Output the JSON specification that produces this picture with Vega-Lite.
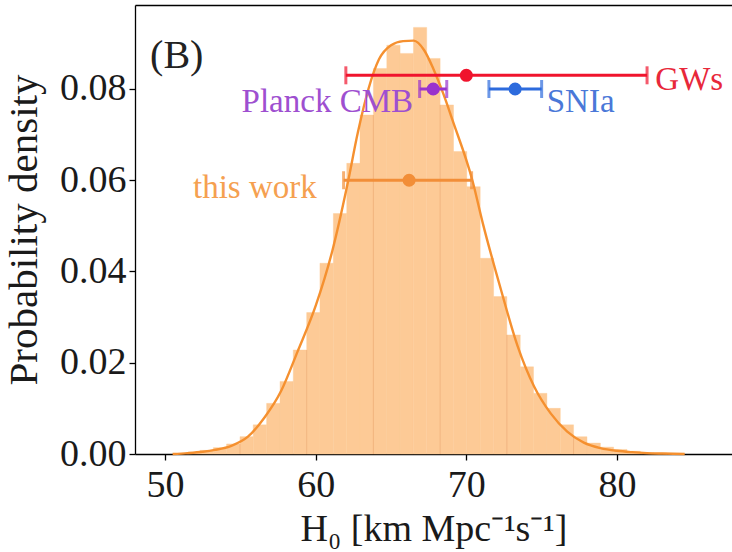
{
  "$schema": "https://vega.github.io/schema/vega-lite/v6.json",
  "width": 597,
  "height": 449,
  "autosize": {"type": "none"},
  "padding": {"left": 135, "top": 5, "right": 0, "bottom": 98},
  "background": "white",
  "config": {
    "view": {"stroke": null},
    "font": "Liberation Serif",
    "text": {"font": "Liberation Serif"},
    "axis": {
      "grid": false,
      "domainColor": "black",
      "domainWidth": 1.3,
      "tickColor": "black",
      "tickWidth": 1.3,
      "tickSize": 6,
      "labelFont": "Liberation Serif",
      "labelFontSize": 38,
      "labelColor": "#1a1a1a",
      "titleFont": "Liberation Serif",
      "titleFontWeight": "normal",
      "titleColor": "#1a1a1a"
    }
  },
  "datasets": {
    "bins": [
      {"lo": 51.42, "hi": 52.31, "density": 0.0003},
      {"lo": 52.31, "hi": 53.20, "density": 0.0008},
      {"lo": 53.20, "hi": 54.08, "density": 0.0014},
      {"lo": 54.08, "hi": 54.97, "density": 0.0022},
      {"lo": 54.97, "hi": 55.85, "density": 0.0038},
      {"lo": 55.85, "hi": 56.74, "density": 0.0064},
      {"lo": 56.74, "hi": 57.63, "density": 0.0111},
      {"lo": 57.63, "hi": 58.51, "density": 0.0159},
      {"lo": 58.51, "hi": 59.40, "density": 0.0228},
      {"lo": 59.40, "hi": 60.28, "density": 0.0310},
      {"lo": 60.28, "hi": 61.17, "density": 0.0418},
      {"lo": 61.17, "hi": 62.06, "density": 0.0527},
      {"lo": 62.06, "hi": 62.94, "density": 0.0637},
      {"lo": 62.94, "hi": 63.83, "density": 0.0743},
      {"lo": 63.83, "hi": 64.72, "density": 0.0845},
      {"lo": 64.72, "hi": 65.60, "density": 0.0896},
      {"lo": 65.60, "hi": 66.49, "density": 0.0878},
      {"lo": 66.49, "hi": 67.37, "density": 0.0935},
      {"lo": 67.37, "hi": 68.26, "density": 0.0867},
      {"lo": 68.26, "hi": 69.15, "density": 0.0765},
      {"lo": 69.15, "hi": 70.03, "density": 0.0663},
      {"lo": 70.03, "hi": 70.92, "density": 0.0586},
      {"lo": 70.92, "hi": 71.81, "density": 0.0429},
      {"lo": 71.81, "hi": 72.69, "density": 0.0345},
      {"lo": 72.69, "hi": 73.58, "density": 0.0261},
      {"lo": 73.58, "hi": 74.46, "density": 0.0191},
      {"lo": 74.46, "hi": 75.35, "density": 0.0133},
      {"lo": 75.35, "hi": 76.24, "density": 0.0100},
      {"lo": 76.24, "hi": 77.12, "density": 0.0064},
      {"lo": 77.12, "hi": 78.01, "density": 0.0038},
      {"lo": 78.01, "hi": 78.90, "density": 0.0024},
      {"lo": 78.90, "hi": 79.78, "density": 0.0015},
      {"lo": 79.78, "hi": 80.67, "density": 0.0010},
      {"lo": 80.67, "hi": 81.55, "density": 0.0006},
      {"lo": 81.55, "hi": 82.44, "density": 0.0003},
      {"lo": 82.44, "hi": 83.33, "density": 0.0002}
    ],
    "edges": [
      {"h": 54.97, "density": 0.0022},
      {"h": 59.40, "density": 0.0228},
      {"h": 63.83, "density": 0.0743},
      {"h": 68.26, "density": 0.0765},
      {"h": 72.69, "density": 0.0261},
      {"h": 77.12, "density": 0.0038}
    ],
    "kde": [
      {"h": 50.5, "density": 0.0000},
      {"h": 51.5, "density": 0.0002},
      {"h": 52.5, "density": 0.0005},
      {"h": 53.3, "density": 0.0009},
      {"h": 54.4, "density": 0.0018},
      {"h": 55.5, "density": 0.0038},
      {"h": 56.6, "density": 0.0080},
      {"h": 57.7, "density": 0.0138},
      {"h": 58.8, "density": 0.0225},
      {"h": 60.0, "density": 0.0325},
      {"h": 61.1, "density": 0.0445},
      {"h": 62.1, "density": 0.0590},
      {"h": 62.8, "density": 0.0705},
      {"h": 63.5, "density": 0.0800},
      {"h": 64.2, "density": 0.0865},
      {"h": 65.0, "density": 0.0896},
      {"h": 65.8, "density": 0.0905},
      {"h": 66.5, "density": 0.0906},
      {"h": 67.2, "density": 0.0885},
      {"h": 67.8, "density": 0.0845},
      {"h": 68.5, "density": 0.0787},
      {"h": 69.1, "density": 0.0730},
      {"h": 70.4, "density": 0.0600},
      {"h": 71.1, "density": 0.0505},
      {"h": 72.3, "density": 0.0360},
      {"h": 73.4, "density": 0.0237},
      {"h": 74.5, "density": 0.0148},
      {"h": 75.6, "density": 0.0089},
      {"h": 76.7, "density": 0.0049},
      {"h": 77.8, "density": 0.0025},
      {"h": 78.9, "density": 0.0013},
      {"h": 80.0, "density": 0.0007},
      {"h": 81.0, "density": 0.0004},
      {"h": 82.0, "density": 0.0002},
      {"h": 83.0, "density": 0.0001},
      {"h": 84.5, "density": 0.0000}
    ],
    "est": [
      {"name": "GWs", "h": 70.0, "lo": 62.0, "hi": 82.0, "y": 0.0830},
      {"name": "Planck CMB", "h": 67.8, "lo": 66.9, "hi": 68.7, "y": 0.0800},
      {"name": "SNIa", "h": 73.24, "lo": 71.5, "hi": 75.0, "y": 0.0800},
      {"name": "this work", "h": 66.2, "lo": 61.85, "hi": 70.35, "y": 0.0600}
    ],
    "labelsLeft": [
      {"name": "GWs", "h": 82.55, "y": 0.0798, "text": "GWs"},
      {"name": "SNIa", "h": 75.34, "y": 0.0750, "text": "SNIa"}
    ],
    "labelsRight": [
      {"name": "Planck CMB", "h": 66.46, "y": 0.0750, "text": "Planck CMB"},
      {"name": "this work", "h": 60.07, "y": 0.0561, "text": "this work"}
    ],
    "panel": [
      {"h": 49.0, "y": 0.0845, "text": "(B)"}
    ]
  },
  "resolve": {"axis": {"x": "independent", "y": "independent"}, "scale": {"color": "independent"}},
  "layer": [
    {
      "data": {"name": "bins"},
      "mark": {"type": "rect", "fill": "#fdca96", "stroke": "#fdca96", "strokeWidth": 0.4},
      "encoding": {
        "x": {
          "field": "lo", "type": "quantitative",
          "scale": {"domain": [48.0, 87.64], "nice": false, "zero": false},
          "axis": {"values": [50, 60, 70, 80], "format": "d", "labelPadding": 6, "title": "H₀ [km Mpc⁻¹s⁻¹]", "titleFontSize": 38, "titlePadding": 6}
        },
        "x2": {"field": "hi"},
        "y": {
          "field": "density", "type": "quantitative",
          "scale": {"domain": [0, 0.09841], "nice": false},
          "axis": {"values": [0, 0.02, 0.04, 0.06, 0.08], "format": ".2f", "labelPadding": 3, "title": "Probability density", "titleFontSize": 41, "titlePadding": 14}
        },
        "y2": {"datum": 0}
      }
    },
    {
      "data": {"name": "edges"},
      "mark": {"type": "rule", "color": "#f2b57f", "strokeWidth": 1},
      "encoding": {
        "x": {"field": "h", "type": "quantitative", "axis": null},
        "y": {"field": "density", "type": "quantitative", "axis": null},
        "y2": {"datum": 0}
      }
    },
    {
      "data": {"name": "kde"},
      "mark": {"type": "line", "color": "#f5902f", "strokeWidth": 2.4, "interpolate": "monotone"},
      "encoding": {
        "x": {"field": "h", "type": "quantitative", "axis": {"orient": "top", "labels": false, "ticks": false, "title": null, "domain": true}},
        "y": {"field": "density", "type": "quantitative", "axis": null}
      }
    },
    {
      "data": {"name": "est"},
      "layer": [
        {
          "mark": {"type": "rule", "strokeWidth": 3},
          "encoding": {
            "x": {"field": "lo", "type": "quantitative", "axis": null},
            "x2": {"field": "hi"},
            "y": {"field": "y", "type": "quantitative", "axis": null}
          }
        },
        {
          "mark": {"type": "tick", "orient": "vertical", "thickness": 3, "size": 18},
          "encoding": {
            "x": {"field": "lo", "type": "quantitative", "axis": null},
            "y": {"field": "y", "type": "quantitative", "axis": null}
          }
        },
        {
          "mark": {"type": "tick", "orient": "vertical", "thickness": 3, "size": 18},
          "encoding": {
            "x": {"field": "hi", "type": "quantitative", "axis": null},
            "y": {"field": "y", "type": "quantitative", "axis": null}
          }
        },
        {
          "mark": {"type": "circle", "size": 170, "opacity": 1},
          "encoding": {
            "x": {"field": "h", "type": "quantitative", "axis": null},
            "y": {"field": "y", "type": "quantitative", "axis": null}
          }
        }
      ],
      "encoding": {
        "color": {"field": "name", "type": "nominal", "legend": null,
          "scale": {"domain": ["GWs", "Planck CMB", "SNIa", "this work"], "range": ["#f0142d", "#9a32cd", "#2d6bdd", "#f28e38"]}}
      }
    },
    {
      "layer": [
        {
          "data": {"name": "labelsLeft"},
          "mark": {"type": "text", "align": "left", "baseline": "alphabetic", "fontSize": 33, "font": "Liberation Serif"},
          "encoding": {
            "x": {"field": "h", "type": "quantitative", "axis": null},
            "y": {"field": "y", "type": "quantitative", "axis": null},
            "text": {"field": "text"}
          }
        },
        {
          "data": {"name": "labelsRight"},
          "mark": {"type": "text", "align": "right", "baseline": "alphabetic", "fontSize": 33, "font": "Liberation Serif"},
          "encoding": {
            "x": {"field": "h", "type": "quantitative", "axis": null},
            "y": {"field": "y", "type": "quantitative", "axis": null},
            "text": {"field": "text"}
          }
        }
      ],
      "encoding": {
        "color": {"field": "name", "type": "nominal", "legend": null,
          "scale": {"domain": ["GWs", "Planck CMB", "SNIa", "this work"], "range": ["#e8283a", "#9e4fd0", "#4a78d8", "#f5a050"]}}
      }
    },
    {
      "data": {"name": "panel"},
      "mark": {"type": "text", "align": "left", "baseline": "alphabetic", "fontSize": 40, "font": "Liberation Serif", "color": "#222222"},
      "encoding": {
        "x": {"field": "h", "type": "quantitative", "axis": null},
        "y": {"field": "y", "type": "quantitative", "axis": null},
        "text": {"field": "text"}
      }
    }
  ]
}
